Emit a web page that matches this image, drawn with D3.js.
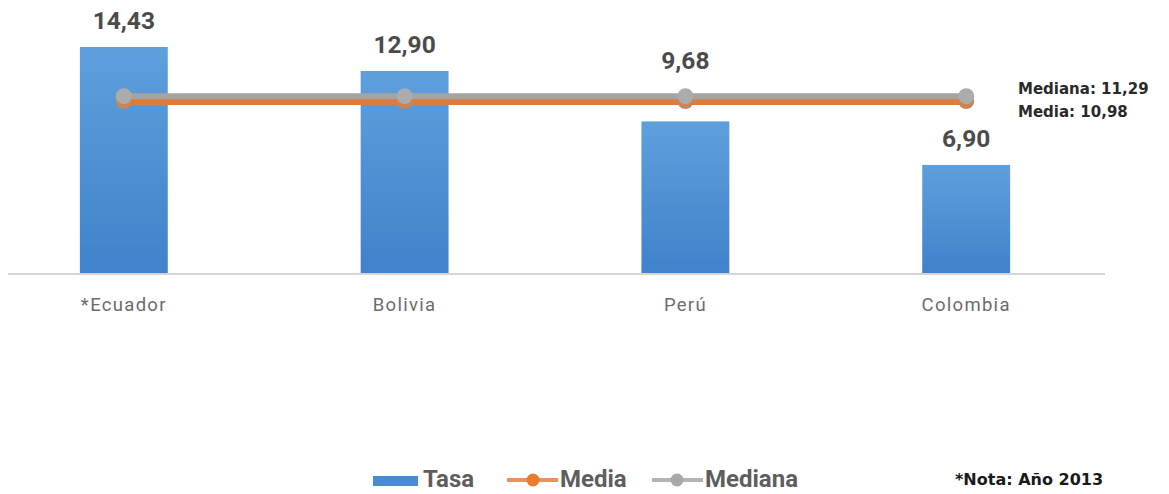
<!DOCTYPE html>
<html>
<head>
<meta charset="utf-8">
<script src="https://cdn.jsdelivr.net/npm/d3@7"></script>
<style>
  html, body { margin: 0; padding: 0; background: #fff; }
  svg { display: block; }
</style>
</head>
<body>
<svg id="chart" width="1169" height="494"></svg>
<script>
// Tasa por país, con media y mediana
const categories = ["*Ecuador", "Bolivia", "Perú", "Colombia"];
const tasa = [14.43, 12.90, 9.68, 6.90];
const media = [10.98, 10.98, 10.98, 10.98];
const mediana = [11.29, 11.29, 11.29, 11.29];
const legendLabels = ["Tasa", "Media", "Mediana"];
const notes = ["Mediana: 11,29", "Media: 10,98"];
const footNote = "*Nota: Año 2013";

const fmt = v => v.toFixed(2).replace(".", ",");

const svg = d3.select("#chart");
const baseY = 273;

const x = d3.scaleBand()
  .domain(categories)
  .range([8, 1082])
  .paddingInner(0.687)
  .paddingOuter(0.256);

const y = d3.scaleLinear()
  .domain([0, 14.43])
  .range([baseY, 47]);

const cx = (d, i) => x(categories[i]) + x.bandwidth() / 2;

const defs = svg.append("defs");
const grad = defs.append("linearGradient")
  .attr("id", "barGrad").attr("x1", 0).attr("y1", 0).attr("x2", 0).attr("y2", 1);
grad.append("stop").attr("offset", "0%").attr("stop-color", "#5e9fdc");
grad.append("stop").attr("offset", "100%").attr("stop-color", "#4082cb");

const soft = defs.append("filter").attr("id", "soft")
  .attr("x", "-5%").attr("y", "-100%").attr("width", "110%").attr("height", "300%");
soft.append("feGaussianBlur").attr("stdDeviation", 0.7);

// baseline
svg.append("line")
  .attr("x1", 8).attr("x2", 1105)
  .attr("y1", baseY + 1).attr("y2", baseY + 1)
  .attr("stroke", "#d6d6d6").attr("stroke-width", 2);

// category labels via the band axis
const axis = svg.append("g").attr("transform", `translate(0,${baseY})`)
  .call(d3.axisBottom(x).tickSize(0).tickPadding(25));
axis.select(".domain").remove();
axis.selectAll(".tick text")
  .attr("font-family", "Roboto, sans-serif")
  .attr("font-weight", 400)
  .attr("font-size", 18.5)
  .attr("letter-spacing", 1.3)
  .attr("fill", "#6c6c6c");

// bars
svg.append("g").selectAll("rect")
  .data(tasa)
  .join("rect")
  .attr("x", (d, i) => x(categories[i]))
  .attr("width", x.bandwidth())
  .attr("y", d => y(d))
  .attr("height", d => y(0) - y(d))
  .attr("fill", "url(#barGrad)");

// lines and markers
const lineGen = d3.line().x(cx).y(d => y(d));
const lines = svg.append("g").attr("filter", "url(#soft)");
lines.append("path").datum(media)
  .attr("d", lineGen).attr("fill", "none")
  .attr("stroke", "#e07b3a").attr("stroke-width", 8);
lines.append("path").datum(mediana)
  .attr("d", lineGen).attr("fill", "none")
  .attr("stroke", "#a4a4a4").attr("stroke-width", 6);
lines.append("g").selectAll("circle")
  .data(media).join("circle")
  .attr("cx", cx).attr("cy", d => y(d))
  .attr("r", 8).attr("fill", "#c98458");
lines.append("g").selectAll("circle")
  .data(mediana).join("circle")
  .attr("cx", cx).attr("cy", d => y(d))
  .attr("r", 8).attr("fill", "#acacac");

// value labels: above the bar, lifted over the reference lines when they would collide
const lineTop = y(d3.max(mediana)) - 4;
const lineBottom = y(d3.min(media)) + 4;
const labelY = d => {
  const base = y(d) - 18;
  const top = base - 18;
  if (base > lineTop && top < lineBottom) return lineTop - 23;
  return base;
};
svg.append("g").selectAll("text")
  .data(tasa)
  .join("text")
  .attr("x", cx)
  .attr("y", labelY)
  .attr("text-anchor", "middle")
  .attr("font-family", "Roboto, sans-serif")
  .attr("font-weight", "bold")
  .attr("font-size", 24.5)
  .attr("fill", "#4b4b4b")
  .text(d => fmt(d));

// side notes
svg.append("g").selectAll("text")
  .data(notes).join("text")
  .attr("x", 1018)
  .attr("y", (d, i) => 94 + i * 23)
  .attr("font-family", "'DejaVu Sans', sans-serif")
  .attr("font-weight", "bold")
  .attr("font-size", 15)
  .attr("fill", "#2a2a2a")
  .text(d => d);

// legend
const ly = 480;
const lg = svg.append("g")
  .attr("font-family", "Roboto, sans-serif")
  .attr("font-weight", "bold")
  .attr("font-size", 24)
  .attr("fill", "#5e5e5e");
lg.append("rect").attr("x", 373).attr("y", ly - 4).attr("width", 45).attr("height", 10).attr("fill", "#4a8ad0");
lg.append("text").attr("x", 423).attr("y", ly + 7).text(legendLabels[0]);

lg.append("line").attr("x1", 507).attr("x2", 558).attr("y1", ly).attr("y2", ly)
  .attr("stroke", "#e9925a").attr("stroke-width", 4);
lg.append("circle").attr("cx", 533).attr("cy", ly).attr("r", 6.5).attr("fill", "#ec7a2e");
lg.append("text").attr("x", 560).attr("y", ly + 7).text(legendLabels[1]);

lg.append("line").attr("x1", 652).attr("x2", 703).attr("y1", ly).attr("y2", ly)
  .attr("stroke", "#b4b4b4").attr("stroke-width", 4);
lg.append("circle").attr("cx", 677).attr("cy", ly).attr("r", 6.5).attr("fill", "#a8a8a8");
lg.append("text").attr("x", 705).attr("y", ly + 7).text(legendLabels[2]);

svg.append("text")
  .attr("x", 955).attr("y", 485)
  .attr("font-family", "'DejaVu Sans', sans-serif")
  .attr("font-weight", "bold")
  .attr("font-size", 16)
  .attr("fill", "#1a1a1a")
  .text(footNote);
</script>
</body>
</html>
